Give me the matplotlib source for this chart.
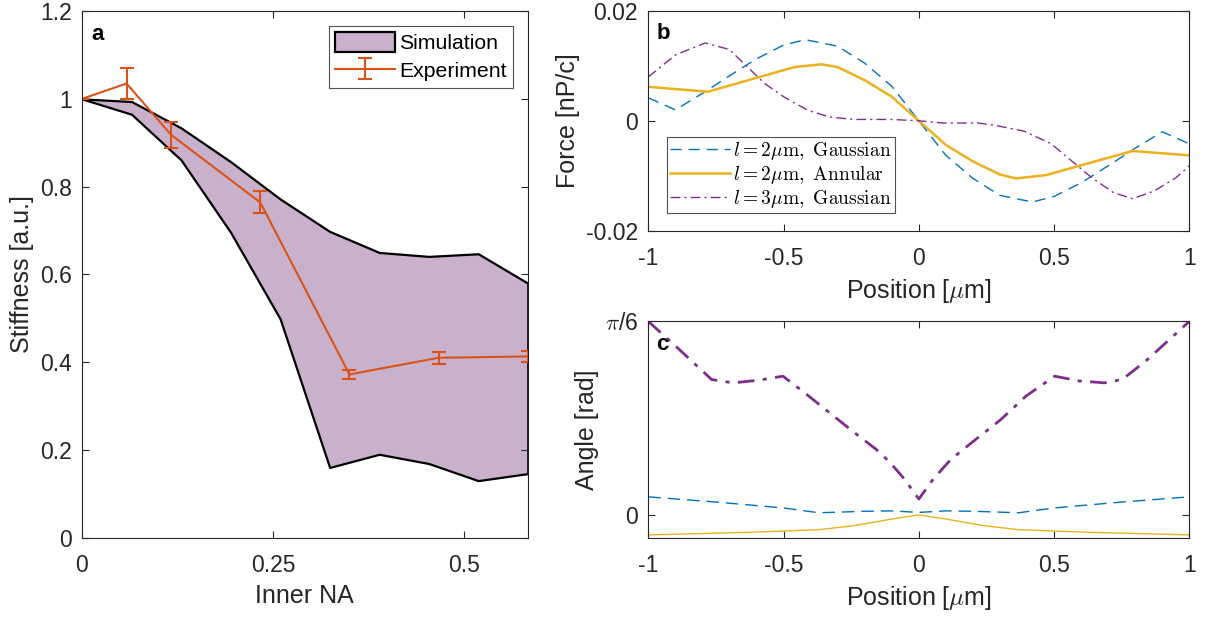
import matplotlib
matplotlib.use("Agg")
import matplotlib.pyplot as plt
import numpy as np

plt.rcParams['font.family'] = ['Liberation Sans', 'DejaVu Sans']
plt.rcParams['mathtext.fontset'] = 'cm'

# panel a: stiffness vs inner NA
sim_na = [0, 0.0648, 0.1295, 0.1943, 0.259, 0.3238, 0.3886, 0.4533, 0.518, 0.5828]
sim_upper = [1.0, 0.994, 0.934, 0.857, 0.772, 0.698, 0.650, 0.641, 0.647, 0.580]
sim_lower = [1.0, 0.965, 0.861, 0.696, 0.499, 0.160, 0.190, 0.169, 0.130, 0.146]

exp_na = [0, 0.0583, 0.1166, 0.2331, 0.3497, 0.4662, 0.5828]
exp_stiff = [1.0, 1.035, 0.918, 0.764, 0.372, 0.410, 0.413]
exp_err = [0.0, 0.035, 0.030, 0.025, 0.011, 0.014, 0.0135]

# panel b: force vs position
gauss2_x = [-1, -0.9, -0.8, -0.7, -0.6, -0.5, -0.42, -0.3, -0.2, -0.1, 0,
            0.1, 0.2, 0.3, 0.42, 0.5, 0.6, 0.7, 0.8, 0.9, 1]
gauss2_f = [0.0042, 0.0020, 0.0050, 0.0082, 0.0113, 0.0138, 0.0148, 0.0136, 0.0105, 0.0063, 0,
            -0.0063, -0.0105, -0.0136, -0.0148, -0.0138, -0.0113, -0.0082, -0.0050, -0.0020, -0.0042]

annular_x = [-1, -0.78, -0.46, -0.36, -0.3, -0.2, -0.1, 0, 0.1, 0.2, 0.3, 0.36, 0.47, 0.79, 1]
annular_f = [0.0062, 0.0053, 0.0098, 0.0103, 0.0098, 0.0074, 0.0044, 0,
             -0.0044, -0.0074, -0.0098, -0.0105, -0.0099, -0.0055, -0.0063]

gauss3_x = [-1, -0.9, -0.79, -0.7, -0.635, -0.57, -0.5, -0.41, -0.33, -0.24, -0.1, 0,
            0.09, 0.22, 0.29, 0.39, 0.49, 0.55, 0.64, 0.72, 0.79, 0.87, 0.95, 1]
gauss3_f = [0.0080, 0.0120, 0.0142, 0.0130, 0.0099, 0.0068, 0.0044, 0.0019, 0.0007, 0.00025, 0.00025, 0,
            -0.0004, -0.0004, -0.0009, -0.0019, -0.0042, -0.0067, -0.0104, -0.0131, -0.0142, -0.0128,
            -0.0104, -0.0082]

# panel c: angle vs position
ang3_x = [-1, -0.898, -0.766, -0.686, -0.594, -0.502, -0.422, -0.33, -0.238, -0.158, -0.106, -0.053, 0,
          0.053, 0.119, 0.211, 0.304, 0.396, 0.502, 0.594, 0.686, 0.752, 0.845, 1]
ang3_y = [0.5236, 0.456, 0.366, 0.357, 0.364, 0.375, 0.330, 0.276, 0.222, 0.177, 0.141, 0.096, 0.042,
          0.096, 0.150, 0.204, 0.258, 0.321, 0.375, 0.362, 0.357, 0.366, 0.420, 0.5236]

ang2g_x = [-1, -0.75, -0.5, -0.37, -0.2, -0.1, 0, 0.1, 0.2, 0.37, 0.5, 0.75, 1]
ang2g_y = [0.048, 0.034, 0.018, 0.005, 0.009, 0.010, 0.006, 0.010, 0.009, 0.005, 0.018, 0.034, 0.048]

ang2a_x = [-1, -0.63, -0.37, -0.24, -0.1, 0, 0.1, 0.24, 0.37, 0.63, 1]
ang2a_y = [-0.055, -0.048, -0.041, -0.030, -0.012, -0.001, -0.012, -0.030, -0.041, -0.048, -0.055]

c_blue = '#0072BD'
c_yellow = '#EDB120'
c_purple = '#7E2F8E'
c_red = '#D95319'
c_text = '#262626'

TICK = 16.5
LABEL = 18

fig = plt.figure(figsize=(12.05, 6.18), dpi=100)
ax_a = fig.add_axes([0.068, 0.130, 0.370, 0.852])
ax_b = fig.add_axes([0.538, 0.627, 0.449, 0.355])
ax_c = fig.add_axes([0.538, 0.130, 0.449, 0.350])

for ax in (ax_a, ax_b, ax_c):
    ax.tick_params(direction='in', top=True, right=True, length=5, width=0.8,
                   labelsize=TICK, colors=c_text)
    ax.tick_params(axis='x', pad=12)
    ax.tick_params(axis='y', pad=7.5)
    for sp in ax.spines.values():
        sp.set_color(c_text)
        sp.set_linewidth(0.8)

# --- a ---
ax_a.fill_between(sim_na, sim_lower, sim_upper, facecolor='#C9B1CB',
                  edgecolor='black', linewidth=1.6, label='Simulation')
ax_a.errorbar(exp_na, exp_stiff, yerr=exp_err, color=c_red, lw=1.5,
              capsize=5, capthick=1.5, label='Experiment')
ax_a.set_xlim(0, 0.5828)
ax_a.set_ylim(0, 1.2)
ax_a.set_xticks([0, 0.25, 0.5])
ax_a.set_xticklabels(['0', '0.25', '0.5'])
ax_a.set_yticks([0, 0.2, 0.4, 0.6, 0.8, 1, 1.2])
ax_a.set_yticklabels(['0', '0.2', '0.4', '0.6', '0.8', '1', '1.2'])
ax_a.set_xlabel('Inner NA', fontsize=LABEL, color=c_text, labelpad=5)
ax_a.set_ylabel('Stiffness [a.u.]', fontsize=LABEL, color=c_text)
ax_a.text(0.022, 0.975, 'a', transform=ax_a.transAxes, fontsize=16,
          fontweight='bold', va='top', ha='left')
leg = ax_a.legend(loc='upper right', fontsize=15.3, frameon=True, fancybox=False,
                  edgecolor=c_text, handlelength=2.8, handleheight=1.05, borderpad=0.3,
                  labelspacing=0.32, handletextpad=0.2, borderaxespad=0.7)
leg.get_frame().set_linewidth(0.8)

# --- b ---
ax_b.plot(gauss2_x, gauss2_f, color=c_blue, lw=1.0, dashes=(8, 5),
          label=r'$l = 2\mu\mathrm{m},\ \mathrm{Gaussian}$')
ax_b.plot(annular_x, annular_f, color=c_yellow, lw=1.8,
          label=r'$l = 2\mu\mathrm{m},\ \mathrm{Annular}$')
ax_b.plot(gauss3_x, gauss3_f, color=c_purple, lw=1.0, dashes=(7, 3, 1.5, 3),
          label=r'$l = 3\mu\mathrm{m},\ \mathrm{Gaussian}$')
ax_b.set_xlim(-1, 1)
ax_b.set_ylim(-0.02, 0.02)
ax_b.set_xticks([-1, -0.5, 0, 0.5, 1])
ax_b.set_xticklabels(['-1', '-0.5', '0', '0.5', '1'])
ax_b.set_yticks([-0.02, 0, 0.02])
ax_b.set_yticklabels(['-0.02', '0', '0.02'])
ax_b.set_xlabel(r'Position [$\mu$m]', fontsize=LABEL, color=c_text, labelpad=5)
ax_b.set_ylabel('Force [nP/c]', fontsize=LABEL, color=c_text)
ax_b.text(0.015, 0.945, 'b', transform=ax_b.transAxes, fontsize=16,
          fontweight='bold', va='top', ha='left')
leg = ax_b.legend(loc='lower left', fontsize=14, frameon=True, fancybox=False,
                  edgecolor=c_text, handlelength=3.1, borderpad=0.15,
                  labelspacing=0.1, handletextpad=0.15, borderaxespad=0,
                  bbox_to_anchor=(0.035, 0.082))
leg.get_frame().set_linewidth(0.8)

# --- c ---
ax_c.plot(ang3_x, ang3_y, color=c_purple, lw=2.0, dashes=(6, 3, 1.5, 3))
ax_c.plot(ang2g_x, ang2g_y, color=c_blue, lw=1.0, dashes=(9, 5))
ax_c.plot(ang2a_x, ang2a_y, color=c_yellow, lw=1.0)
ax_c.set_xlim(-1, 1)
ax_c.set_ylim(-0.0625, np.pi / 6)
ax_c.set_xticks([-1, -0.5, 0, 0.5, 1])
ax_c.set_xticklabels(['-1', '-0.5', '0', '0.5', '1'])
ax_c.set_yticks([0, np.pi / 6])
ax_c.set_yticklabels(['0', r'$\pi$/6'])
ax_c.set_xlabel(r'Position [$\mu$m]', fontsize=LABEL, color=c_text, labelpad=5)
ax_c.set_ylabel('Angle [rad]', fontsize=LABEL, color=c_text)
ax_c.text(0.015, 0.94, 'c', transform=ax_c.transAxes, fontsize=16,
          fontweight='bold', va='top', ha='left')

fig.savefig('out.png', dpi=100)
